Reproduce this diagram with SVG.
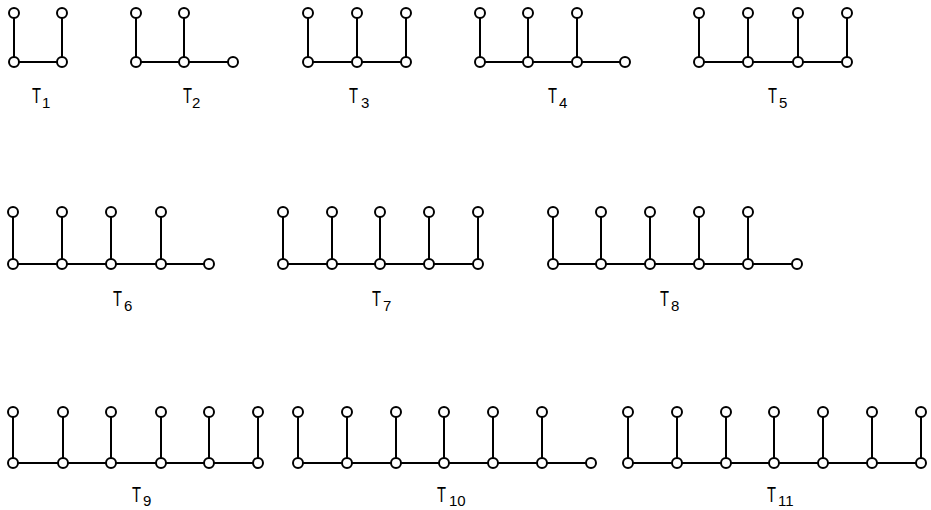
<svg xmlns="http://www.w3.org/2000/svg" width="931" height="510" viewBox="0 0 931 510">
<style>
.e{fill:none;stroke:#000;stroke-width:2}
.n circle{fill:#fff;stroke:#000;stroke-width:2}
.lbl{font-family:"Liberation Sans",Arial,sans-serif;fill:#000}
.m{font-size:22px}
.s{font-size:15px}
</style>
<rect width="931" height="510" fill="#fff"/>
<g id="connectors" class="e">
<path d="M14 62H62M14 13V62M62 13V62"/>
<path d="M136 62H233M136 13V62M184 13V62"/>
<path d="M308 62H406M308 13V62M357 13V62M406 13V62"/>
<path d="M480 62H625M480 13V62M528 13V62M577 13V62"/>
<path d="M699 62H847M699 13V62M748 13V62M798 13V62M847 13V62"/>
<path d="M13 264H209M13 212V264M62 212V264M111 212V264M161 212V264"/>
<path d="M283 264H478M283 212V264M332 212V264M380 212V264M429 212V264M478 212V264"/>
<path d="M553 264H797M553 212V264M601 212V264M650 212V264M699 212V264M748 212V264"/>
<path d="M13 463H258M13 412V463M63 412V463M111 412V463M161 412V463M209 412V463M258 412V463"/>
<path d="M298 463H591M298 412V463M347 412V463M396 412V463M444 412V463M493 412V463M542 412V463"/>
<path d="M628 463H921M628 412V463M677 412V463M726 412V463M774 412V463M823 412V463M872 412V463M921 412V463"/>
</g>
<g id="tree1" class="n">
<circle id="t1a" cx="14" cy="13" r="5"/><circle id="t1b" cx="62" cy="13" r="5"/>
<circle id="t1c" cx="14" cy="62" r="5"/><circle id="t1d" cx="62" cy="62" r="5"/>
<text class="lbl"><tspan class="m" x="32" y="103" textLength="9" lengthAdjust="spacingAndGlyphs">T</tspan><tspan class="s" x="42" y="108">1</tspan></text>
</g>
<g id="tree2" class="n">
<circle cx="136" cy="13" r="5"/><circle cx="184" cy="13" r="5"/>
<circle cx="136" cy="62" r="5"/><circle cx="184" cy="62" r="5"/><circle cx="233" cy="62" r="5"/>
<text class="lbl"><tspan class="m" x="183" y="103" textLength="9" lengthAdjust="spacingAndGlyphs">T</tspan><tspan class="s" x="192" y="108">2</tspan></text>
</g>
<g id="tree3" class="n">
<circle cx="308" cy="13" r="5"/><circle cx="357" cy="13" r="5"/><circle cx="406" cy="13" r="5"/>
<circle cx="308" cy="62" r="5"/><circle cx="357" cy="62" r="5"/><circle cx="406" cy="62" r="5"/>
<text class="lbl"><tspan class="m" x="349" y="103" textLength="9" lengthAdjust="spacingAndGlyphs">T</tspan><tspan class="s" x="361" y="108">3</tspan></text>
</g>
<g id="tree4" class="n">
<circle cx="480" cy="13" r="5"/><circle cx="528" cy="13" r="5"/><circle cx="577" cy="13" r="5"/>
<circle cx="480" cy="62" r="5"/><circle cx="528" cy="62" r="5"/><circle cx="577" cy="62" r="5"/><circle cx="625" cy="62" r="5"/>
<text class="lbl"><tspan class="m" x="548" y="103" textLength="9" lengthAdjust="spacingAndGlyphs">T</tspan><tspan class="s" x="559" y="108">4</tspan></text>
</g>
<g id="tree5" class="n">
<circle cx="699" cy="13" r="5"/><circle cx="748" cy="13" r="5"/><circle cx="798" cy="13" r="5"/><circle cx="847" cy="13" r="5"/>
<circle cx="699" cy="62" r="5"/><circle cx="748" cy="62" r="5"/><circle cx="798" cy="62" r="5"/><circle cx="847" cy="62" r="5"/>
<text class="lbl"><tspan class="m" x="768" y="103" textLength="9" lengthAdjust="spacingAndGlyphs">T</tspan><tspan class="s" x="779" y="108">5</tspan></text>
</g>
<g id="tree6" class="n">
<circle cx="13" cy="212" r="5"/><circle cx="62" cy="212" r="5"/><circle cx="111" cy="212" r="5"/><circle cx="161" cy="212" r="5"/>
<circle cx="13" cy="264" r="5"/><circle cx="62" cy="264" r="5"/><circle cx="111" cy="264" r="5"/><circle cx="161" cy="264" r="5"/><circle cx="209" cy="264" r="5"/>
<text class="lbl"><tspan class="m" x="113" y="306" textLength="9" lengthAdjust="spacingAndGlyphs">T</tspan><tspan class="s" x="124" y="311">6</tspan></text>
</g>
<g id="tree7" class="n">
<circle cx="283" cy="212" r="5"/><circle cx="332" cy="212" r="5"/><circle cx="380" cy="212" r="5"/><circle cx="429" cy="212" r="5"/><circle cx="478" cy="212" r="5"/>
<circle cx="283" cy="264" r="5"/><circle cx="332" cy="264" r="5"/><circle cx="380" cy="264" r="5"/><circle cx="429" cy="264" r="5"/><circle cx="478" cy="264" r="5"/>
<text class="lbl"><tspan class="m" x="372" y="306" textLength="9" lengthAdjust="spacingAndGlyphs">T</tspan><tspan class="s" x="383" y="311">7</tspan></text>
</g>
<g id="tree8" class="n">
<circle cx="553" cy="212" r="5"/><circle cx="601" cy="212" r="5"/><circle cx="650" cy="212" r="5"/><circle cx="699" cy="212" r="5"/><circle cx="748" cy="212" r="5"/>
<circle cx="553" cy="264" r="5"/><circle cx="601" cy="264" r="5"/><circle cx="650" cy="264" r="5"/><circle cx="699" cy="264" r="5"/><circle cx="748" cy="264" r="5"/><circle cx="797" cy="264" r="5"/>
<text class="lbl"><tspan class="m" x="660" y="306" textLength="9" lengthAdjust="spacingAndGlyphs">T</tspan><tspan class="s" x="671" y="311">8</tspan></text>
</g>
<g id="tree9" class="n">
<circle cx="13" cy="412" r="5"/><circle cx="63" cy="412" r="5"/><circle cx="111" cy="412" r="5"/><circle cx="161" cy="412" r="5"/><circle cx="209" cy="412" r="5"/><circle cx="258" cy="412" r="5"/>
<circle cx="13" cy="463" r="5"/><circle cx="63" cy="463" r="5"/><circle cx="111" cy="463" r="5"/><circle cx="161" cy="463" r="5"/><circle cx="209" cy="463" r="5"/><circle cx="258" cy="463" r="5"/>
<text class="lbl"><tspan class="m" x="132" y="502" textLength="9" lengthAdjust="spacingAndGlyphs">T</tspan><tspan class="s" x="143" y="506">9</tspan></text>
</g>
<g id="tree10" class="n">
<circle cx="298" cy="412" r="5"/><circle cx="347" cy="412" r="5"/><circle cx="396" cy="412" r="5"/><circle cx="444" cy="412" r="5"/><circle cx="493" cy="412" r="5"/><circle cx="542" cy="412" r="5"/>
<circle cx="298" cy="463" r="5"/><circle cx="347" cy="463" r="5"/><circle cx="396" cy="463" r="5"/><circle cx="444" cy="463" r="5"/><circle cx="493" cy="463" r="5"/><circle cx="542" cy="463" r="5"/><circle cx="591" cy="463" r="5"/>
<text class="lbl"><tspan class="m" x="437" y="502" textLength="9" lengthAdjust="spacingAndGlyphs">T</tspan><tspan class="s" x="449" y="506">10</tspan></text>
</g>
<g id="tree11" class="n">
<circle cx="628" cy="412" r="5"/><circle cx="677" cy="412" r="5"/><circle cx="726" cy="412" r="5"/><circle cx="774" cy="412" r="5"/><circle cx="823" cy="412" r="5"/><circle cx="872" cy="412" r="5"/><circle cx="921" cy="412" r="5"/>
<circle cx="628" cy="463" r="5"/><circle cx="677" cy="463" r="5"/><circle cx="726" cy="463" r="5"/><circle cx="774" cy="463" r="5"/><circle cx="823" cy="463" r="5"/><circle cx="872" cy="463" r="5"/><circle cx="921" cy="463" r="5"/>
<text class="lbl"><tspan class="m" x="767" y="502" textLength="9" lengthAdjust="spacingAndGlyphs">T</tspan><tspan class="s" x="778" y="506">11</tspan></text>
</g>
</svg>
